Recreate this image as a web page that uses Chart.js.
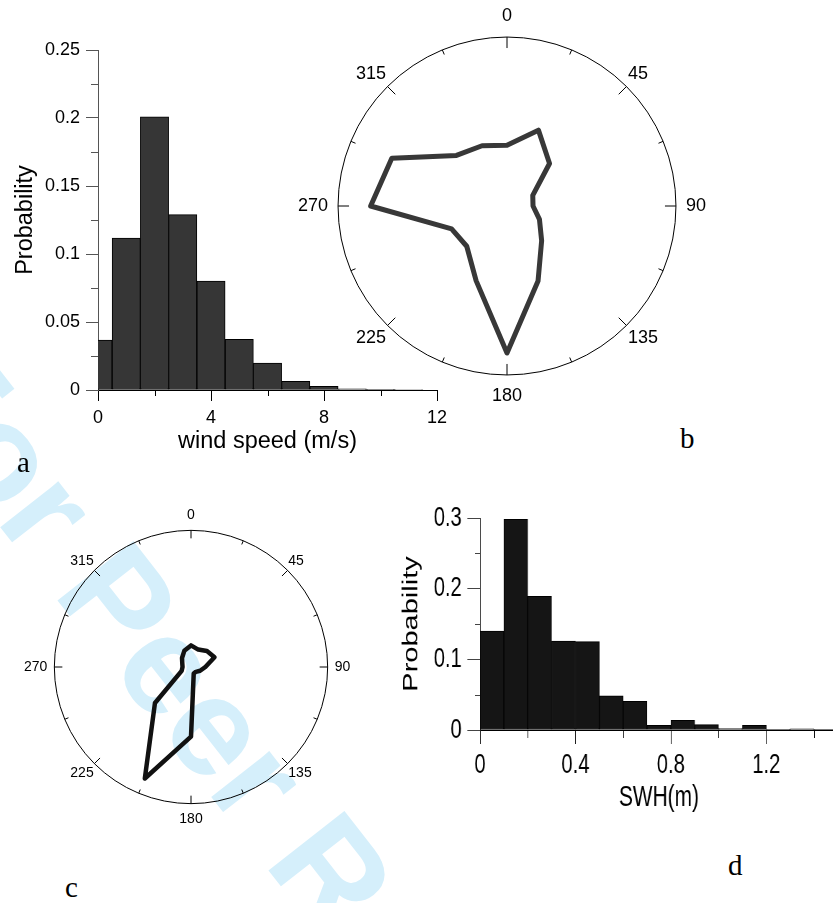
<!DOCTYPE html>
<html>
<head>
<meta charset="utf-8">
<script src="https://cdn.jsdelivr.net/npm/chart.js@4.4.1/dist/chart.umd.min.js"></script>
<style>
  html, body { margin: 0; padding: 0; background: #fff; }
  body { width: 833px; height: 903px; position: relative; overflow: hidden; }
  canvas { position: absolute; }
  .tag { position: absolute; font-family: 'Liberation Serif', serif; font-size: 29px; line-height: 1; color: #000; }
  #watermark {
    position: absolute; left: -18px; top: 312px;
    font: bold 140px 'Liberation Sans', sans-serif; line-height: 1;
    color: #d5effb; white-space: nowrap;
    transform-origin: 0 0; transform: rotate(52deg);
  }
</style>
</head>
<body>
<div id="watermark">For Peer Review</div>
<canvas id="windHist" width="460" height="470" style="left:0;top:0"></canvas>
<canvas id="windRose" width="418" height="418" style="left:293px;top:-2px"></canvas>
<canvas id="waveRose" width="335" height="335" style="left:20px;top:500px"></canvas>
<canvas id="swhHist" width="630" height="350" style="left:390px;top:480px;transform-origin:0 0;transform:scaleX(0.72)"></canvas>
<div class="tag" style="left:17px;top:448px">a</div>
<div class="tag" style="left:680px;top:424px">b</div>
<div class="tag" style="left:65px;top:873px">c</div>
<div class="tag" style="left:728px;top:851px">d</div>
<script>
// (a) wind speed histogram, 1 m/s bins
const windSpeedBins = [0, 1, 2, 3, 4, 5, 6, 7, 8, 9, 10, 11];
const windSpeedProb = [0.0367, 0.1117, 0.2008, 0.129, 0.080, 0.0372, 0.0198, 0.0064, 0.0027, 0.0008, 0.0005, 0.0004];
const windTicksX = [0, 4, 8, 12];
const windMinorX = [2, 6, 10];
const windTicksY = [0, 0.05, 0.1, 0.15, 0.2, 0.25];
const windMinorY = [0.025, 0.075, 0.125, 0.175, 0.225];

// (b) wind direction, (c) wave direction, 16 sectors
const dirLabels = ['0', '22.5', '45', '67.5', '90', '112.5', '135', '157.5',
                   '180', '202.5', '225', '247.5', '270', '292.5', '315', '337.5'];
const windDirFreq = [0.36, 0.486, 0.356, 0.165, 0.154, 0.208, 0.29, 0.48,
                     0.87, 0.478, 0.337, 0.355, 0.807, 0.738, 0.423, 0.386];
const waveDirFreq = [0.158, 0.138, 0.165, 0.186, 0.105, 0.072, 0.05, 0.052,
                     0.51, 0.883, 0.373, 0.074, 0.062, 0.069, 0.093, 0.128];

// (d) significant wave height histogram, 0.1 m bins
const swhBins = [0.05, 0.15, 0.25, 0.35, 0.45, 0.55, 0.65, 0.75, 0.85, 0.95, 1.05, 1.15, 1.25, 1.35, 1.45];
const swhProb = [0.140, 0.298, 0.189, 0.126, 0.125, 0.0485, 0.0405, 0.0066, 0.0137, 0.0075, 0.002, 0.0066, 0.001, 0.0015, 0.001];
const swhTicksX = [0, 0.4, 0.8, 1.2];
const swhMinorX = [0.2, 0.6, 1.0, 1.4];
const swhTicksY = [0, 0.1, 0.2, 0.3];
const swhMinorY = [0.05, 0.15, 0.25];

const SANS = "'Liberation Sans', Arial, sans-serif";
const plain = v => String(Math.round(v * 1000) / 1000);

// short unlabeled ticks next to the axis
const minorTicks = {
  id: 'minorTicks',
  afterDraw(chart, args, opts) {
    const ctx = chart.ctx;
    ctx.save();
    ctx.lineWidth = 1;
    (opts.axes || []).forEach(a => {
      const scale = chart.scales[a.id];
      ctx.strokeStyle = a.color;
      a.values.forEach(v => {
        const p = Math.round(scale.getPixelForValue(v)) + 0.5;
        ctx.beginPath();
        if (scale.isHorizontal()) {
          ctx.moveTo(p, scale.top);
          ctx.lineTo(p, scale.top + a.length);
        } else {
          ctx.moveTo(scale.right, p);
          ctx.lineTo(scale.right - a.length, p);
        }
        ctx.stroke();
      });
    });
    ctx.restore();
  }
};

// tick marks on the outer ring of the roses
const roseTicks = {
  id: 'roseTicks',
  afterDraw(chart, args, opts) {
    const r = chart.scales.r;
    const R = r.drawingArea;
    const ctx = chart.ctx;
    ctx.save();
    ctx.strokeStyle = '#000';
    ctx.lineWidth = 1;
    chart.data.labels.forEach((l, i) => {
      const len = i % 2 === 0 ? opts.major : opts.minor;
      const p1 = r.getPointPosition(i, R - len);
      const p2 = r.getPointPosition(i, R);
      ctx.beginPath();
      ctx.moveTo(p1.x, p1.y);
      ctx.lineTo(p2.x, p2.y);
      ctx.stroke();
    });
    ctx.restore();
  }
};

function histogram(id, o) {
  return new Chart(document.getElementById(id), {
    type: 'bar',
    data: {
      datasets: [{
        data: o.bins.map((x, i) => ({ x: x, y: o.values[i] })),
        backgroundColor: o.fill,
        borderColor: '#000',
        borderWidth: 1,
        borderSkipped: false,
        barPercentage: 1,
        categoryPercentage: 1
      }]
    },
    options: {
      responsive: false,
      animation: false,
      layout: { padding: o.padding },
      plugins: {
        legend: { display: false },
        tooltip: { enabled: false },
        minorTicks: {
          axes: [
            { id: 'x', values: o.minorX, length: o.minorLenX, color: o.xColor },
            { id: 'y', values: o.minorY, length: o.minorLenY, color: o.yTickColor }
          ]
        }
      },
      scales: {
        x: {
          type: 'linear', min: o.xMin, max: o.xMax, offset: false,
          grid: { drawOnChartArea: false, offset: false, tickLength: o.tickLenX, color: o.xColor },
          border: { color: o.xColor },
          ticks: { padding: o.padX, color: '#000', font: { family: SANS, size: o.tickFont }, callback: plain },
          afterBuildTicks: s => { s.ticks = o.ticksX.map(v => ({ value: v })); },
          title: { display: true, text: o.xTitle, color: '#000',
                   font: { family: SANS, size: o.titleFont }, padding: { top: 0, bottom: o.xTitlePad } },
          afterFit: s => { s.height = o.xHeight; s.paddingLeft = 0; s.paddingRight = 0; }
        },
        y: {
          min: 0, max: o.yMax,
          grid: { drawOnChartArea: false, tickLength: o.tickLenY, color: o.yTickColor },
          border: { color: o.yColor },
          ticks: { padding: o.padY, color: '#000', font: { family: SANS, size: o.tickFont }, callback: plain },
          afterBuildTicks: s => { s.ticks = o.ticksY.map(v => ({ value: v })); },
          title: { display: true, text: 'Probability', color: '#000',
                   font: { family: SANS, size: o.titleFont }, padding: { top: o.yTitlePad, bottom: 0 } },
          afterFit: s => { s.width = o.yWidth; s.paddingTop = 0; s.paddingBottom = 0; }
        }
      }
    },
    plugins: [minorTicks]
  });
}

function rose(id, o) {
  return new Chart(document.getElementById(id), {
    type: 'radar',
    data: {
      labels: dirLabels,
      datasets: [{
        data: o.values,
        borderColor: o.color,
        borderWidth: o.width,
        borderJoinStyle: 'round',
        backgroundColor: 'rgba(0,0,0,0)',
        fill: false,
        pointRadius: 0,
        tension: 0
      }]
    },
    options: {
      responsive: false,
      animation: false,
      plugins: { legend: { display: false }, tooltip: { enabled: false }, roseTicks: o.ticks },
      scales: {
        r: {
          min: 0, max: 1,
          ticks: { display: false, stepSize: 1 },
          grid: { circular: true, color: '#000', lineWidth: 1 },
          angleLines: { display: false },
          pointLabels: {
            color: '#000',
            // labels on the diagonals sit right against the ring
            padding: c => (c.index % 4 === 2 ? o.diagPad : o.labelPad),
            font: { family: SANS, size: o.labelFont },
            callback: (label, i) => (i % 2 === 0 ? label : '')
          }
        }
      }
    },
    plugins: [roseTicks]
  });
}

histogram('windHist', {
  bins: windSpeedBins, values: windSpeedProb, fill: '#363636',
  padding: { left: 0, top: 50, right: 23, bottom: 0 },
  xMin: 0, xMax: 12, yMax: 0.25,
  ticksX: windTicksX, ticksY: windTicksY, minorX: windMinorX, minorY: windMinorY,
  tickLenX: 11, tickLenY: 12, minorLenX: 6, minorLenY: 7,
  xColor: '#000', yColor: '#555', yTickColor: '#555',
  padX: 6, padY: 6, tickFont: 18, titleFont: 23.5,
  xTitle: 'wind speed (m/s)', xTitlePad: 14, xHeight: 80,
  yTitlePad: 11, yWidth: 98
});

rose('windRose', {
  values: windDirFreq, color: '#383838', width: 5,
  labelPad: 10, diagPad: 2, labelFont: 18, ticks: { major: 11, minor: 5 }
});

rose('waveRose', {
  values: waveDirFreq, color: '#111', width: 4.5,
  labelPad: 7, diagPad: 1, labelFont: 14, ticks: { major: 8, minor: 4 }
});

histogram('swhHist', {
  bins: swhBins, values: swhProb, fill: '#151515',
  padding: { left: 0, top: 38, right: 8, bottom: 0 },
  xMin: 0, xMax: 1.5, yMax: 0.3,
  ticksX: swhTicksX, ticksY: swhTicksY, minorX: swhMinorX, minorY: swhMinorY,
  tickLenX: 14, tickLenY: 17.6, minorLenX: 8, minorLenY: 7,
  xColor: '#000', yColor: '#222', yTickColor: '#444',
  padX: 4.5, padY: 7.8, tickFont: 28, titleFont: 29,
  xTitle: 'SWH(m)', xTitlePad: 14.6, xHeight: 100,
  yTitlePad: 12.6, yWidth: 125
});
</script>
</body>
</html>
